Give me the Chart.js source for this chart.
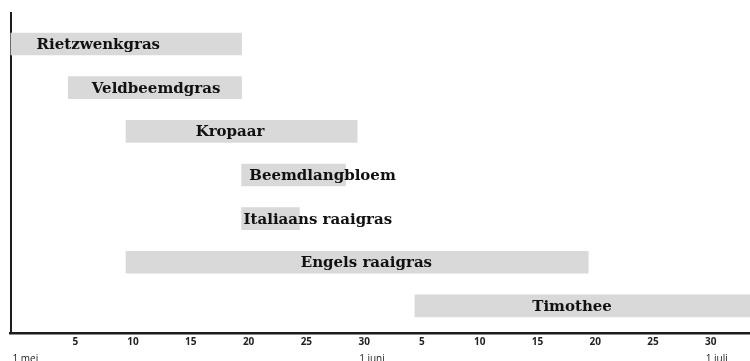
<!DOCTYPE html>
<html lang="nl">
<head>
<meta charset="utf-8">
<title>Bloeiperiode grassen</title>
<script src="https://cdn.jsdelivr.net/npm/chart.js@4.4.1/dist/chart.umd.min.js"></script>
<style>
    html, body { margin: 0; padding: 0; background: #ffffff; overflow: hidden; }
    #wrap { width: 750px; height: 361px; overflow: hidden; }
</style>
</head>
<body>
<div id="wrap"><canvas id="bloei" width="750" height="367"></canvas></div>
<script>
// Grassoorten, van boven naar beneden
const grassen = ['Rietzwenkgras', 'Veldbeemdgras', 'Kropaar', 'Beemdlangbloem', 'Italiaans raaigras', 'Engels raaigras', 'Timothee'];
// Begin en einde van de periode, in dagen vanaf 1 mei (0 = 1 mei, 30 = 1 juni, 60 = 1 juli)
const startDag = [0, 5, 10, 20, 20, 10, 35];
const eindDag = [20, 20, 30, 29, 25, 50, 66];
// Plaats van de naam op de tijdlijn
const naamDag = [7.6, 12.6, 19.0, 27.0, 26.6, 30.8, 48.6];

// As-labels
const dagTicks = [5, 10, 15, 20, 25, 30, 35, 40, 45, 50, 55, 60];
const dagLabels = ['5', '10', '15', '20', '25', '30', '5', '10', '15', '20', '25', '30'];
const maandTicks = [0, 30, 60];
const maandLabels = ['1 mei', '1 juni', '1 juli'];

const asKleur = '#1c1c1c';
const balkKleur = '#d9d9d9';

/**
 * Schrijft de naam van elk gras op zijn balk.
 */
const namenPlugin = {
    id: 'namen',
    afterDatasetsDraw(chart) {
        const { ctx, scales } = chart;
        ctx.save();
        ctx.font = 'bold 15px "DejaVu Serif"';
        ctx.fillStyle = '#111111';
        ctx.textAlign = 'center';
        ctx.textBaseline = 'middle';
        grassen.forEach((naam, i) => {
            const x = scales.x.getPixelForValue(naamDag[i]);
            const y = scales.y.getPixelForValue(grassen.length - i);
            ctx.fillText(naam, x, y + 1);
        });
        ctx.restore();
    }
};

function renderBloeiChart(elementId) {
    const data = grassen.map((naam, i) => ({ x: [startDag[i], eindDag[i]], y: grassen.length - i }));

    new Chart(document.getElementById(elementId).getContext('2d'), {
        type: 'bar',
        data: {
            datasets: [{
                label: 'Bloei',
                data,
                backgroundColor: balkKleur,
                borderWidth: 0,
                barThickness: 22
            }]
        },
        options: {
            indexAxis: 'y',
            responsive: false,
            animation: false,
            layout: { padding: { left: 10.5, top: 13, right: 0, bottom: 0 } },
            scales: {
                y: {
                    type: 'linear',
                    offset: false,
                    min: 0.38,
                    max: 7.71,
                    z: 1,
                    grid: { display: false, drawTicks: false },
                    ticks: { display: false },
                    border: { display: true, color: asKleur, width: 2 }
                },
                x: {
                    type: 'linear',
                    position: 'bottom',
                    weight: 0,
                    min: 0,
                    max: 64,
                    z: 1,
                    afterBuildTicks: (scale) => { scale.ticks = dagTicks.map(v => ({ value: v })); },
                    grid: { display: false, drawTicks: false },
                    border: { display: true, color: asKleur, width: 2.5 },
                    ticks: {
                        autoSkip: false,
                        maxRotation: 0,
                        padding: 3,
                        labelOffset: 7,
                        color: '#222222',
                        font: { family: 'Open Sans', size: 10, weight: 'bold' },
                        callback: (value, index) => dagLabels[index]
                    }
                },
                x2: {
                    type: 'linear',
                    position: 'bottom',
                    weight: 1,
                    min: 0,
                    max: 64,
                    afterBuildTicks: (scale) => { scale.ticks = maandTicks.map(v => ({ value: v })); },
                    grid: { display: false, drawTicks: false },
                    border: { display: false },
                    ticks: {
                        autoSkip: false,
                        maxRotation: 0,
                        align: 'start',
                        padding: 2,
                        labelOffset: 2,
                        color: '#222222',
                        font: { family: 'Open Sans', size: 10 },
                        callback: (value, index) => maandLabels[index]
                    }
                }
            },
            plugins: {
                legend: { display: false },
                tooltip: { enabled: false }
            }
        },
        plugins: [namenPlugin]
    });
}

renderBloeiChart('bloei');
</script>
</body>
</html>
